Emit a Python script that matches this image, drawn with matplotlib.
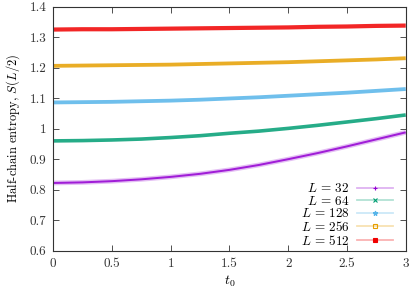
import matplotlib
matplotlib.use("Agg")
import matplotlib.pyplot as plt
from matplotlib.lines import Line2D
from matplotlib.colors import to_rgba

plt.rcParams['font.family'] = ['cmr10', 'DejaVu Serif']
plt.rcParams['mathtext.fontset'] = 'cm'
plt.rcParams['axes.formatter.use_mathtext'] = True

t0 = [0, 0.25, 0.5, 0.75, 1.0, 1.25, 1.5, 1.75, 2.0, 2.25, 2.5, 2.75, 3.0]
S_L32 = [0.822, 0.824, 0.828, 0.834, 0.842, 0.852, 0.865, 0.881, 0.900, 0.920, 0.942, 0.965, 0.988]
S_L64 = [0.960, 0.961, 0.963, 0.966, 0.971, 0.977, 0.985, 0.992, 1.001, 1.011, 1.022, 1.033, 1.045]
S_L128 = [1.086, 1.087, 1.088, 1.090, 1.092, 1.095, 1.099, 1.103, 1.108, 1.113, 1.118, 1.124, 1.130]
S_L256 = [1.206, 1.207, 1.208, 1.209, 1.210, 1.212, 1.214, 1.216, 1.218, 1.221, 1.224, 1.227, 1.231]
S_L512 = [1.325, 1.326, 1.326, 1.327, 1.328, 1.329, 1.330, 1.331, 1.332, 1.334, 1.335, 1.337, 1.338]

labels = [r'$L\,=\,32$', r'$L\,=\,64$', r'$L\,=\,128$', r'$L\,=\,256$', r'$L\,=\,512$']
series = [S_L32, S_L64, S_L128, S_L256, S_L512]
colors = ['#9400d3', '#009e73', '#56b4e9', '#e69f00', '#f00000']
markers = ['+', 'x', '*', 's', 's']
mfill = [True, True, True, False, True]
widths = [2.0, 3.6, 3.8, 3.8, 4.2]

fig = plt.figure(figsize=(4.09, 2.90), dpi=100)
ax = fig.add_axes([0.130, 0.1355, 0.862, 0.8415])

handles = []
for y, c, m, f, w in zip(series, colors, markers, mfill, widths):
    if c == '#9400d3':
        ax.plot(t0, y, color=c, alpha=0.25, lw=w * 0.72 + 2.0, solid_capstyle='butt')
    ax.plot(t0, y, color=c, lw=w * 0.72, solid_capstyle='butt', alpha=0.85)
    h = Line2D([], [], color=to_rgba(c, 0.3), lw=1.3, marker=m, markersize=3.5,
               markerfacecolor=(to_rgba(c, 1.0) if f else 'none'),
               markeredgecolor=to_rgba(c, 1.0), markeredgewidth=0.8)
    handles.append(h)

leg = ax.legend(handles, labels, loc='lower right', markerfirst=False, frameon=False,
                fontsize=9.5, handlelength=2.7, handletextpad=0.6, labelspacing=-0.03,
                borderaxespad=0.3, bbox_to_anchor=(0.99, -0.025))

ax.set_xlim(0, 3)
ax.set_ylim(0.6, 1.4)
ax.set_xticks([0, 0.5, 1, 1.5, 2, 2.5, 3])
ax.set_xticklabels(['0', '0.5', '1', '1.5', '2', '2.5', '3'])
ax.set_yticks([0.6, 0.7, 0.8, 0.9, 1.0, 1.1, 1.2, 1.3, 1.4])
ax.set_yticklabels(['0.6', '0.7', '0.8', '0.9', '1', '1.1', '1.2', '1.3', '1.4'])
ax.tick_params(direction='in', length=4, width=0.6, top=True, right=True,
               labelsize=9.5, colors='#333333', pad=5)
for s in ax.spines.values():
    s.set_linewidth(0.8)
    s.set_color('#333333')

ax.set_xlabel('$t_0$', fontsize=10, labelpad=3)
ax.set_ylabel('Half-chain entropy, $S(L/2)$', fontsize=9, labelpad=5)

fig.savefig('out.png', dpi=100)
